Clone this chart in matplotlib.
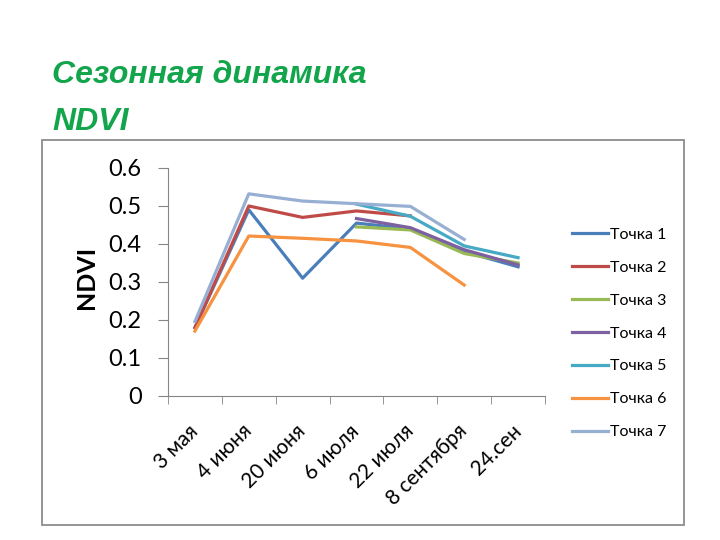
import numpy as np
import matplotlib.pyplot as plt
from matplotlib.patches import Rectangle

plt.rcParams['font.family'] = ['Lato', 'DejaVu Sans']

# Данные
dates = ["3 мая", "4 июня", "20 июня", "6 июля", "22 июля", "8 сентября", "24.сен"]
nan = np.nan
p1 = [0.18, 0.49, 0.31, 0.455, 0.44, 0.38, 0.34]
p2 = [0.18, 0.50, 0.47, 0.487, 0.474, nan, nan]
p3 = [nan, nan, nan, 0.445, 0.437, 0.375, 0.35]
p4 = [nan, nan, nan, 0.467, 0.443, 0.385, 0.345]
p5 = [nan, nan, nan, 0.505, 0.473, 0.395, 0.364]
p6 = [0.171, 0.421, 0.415, 0.408, 0.391, 0.292, nan]
p7 = [0.196, 0.532, 0.513, 0.506, 0.499, 0.412, nan]
series = [p1, p2, p3, p4, p5, p6, p7]
names = ["Точка 1", "Точка 2", "Точка 3", "Точка 4", "Точка 5", "Точка 6", "Точка 7"]
colors = ["#4A7EBB", "#BE4B48", "#98B954", "#7D60A0", "#46AAC5", "#F69240", "#98AFD4"]

fig = plt.figure(figsize=(7.2, 5.4), dpi=100)

# рамка диаграммы
fig.patches.append(Rectangle((42 / 720, 1 - 525 / 540), 642 / 720, 385 / 540,
                             transform=fig.transFigure, fill=False,
                             edgecolor="#8c8c8c", linewidth=1.3))

fig.text(52 / 720, 1 - 75 / 540, "Сезонная динамика", color="#13a54c", fontsize=23,
         fontweight="bold", fontstyle="italic", family="Liberation Sans", va="center")
fig.text(52 / 720, 1 - 122 / 540, "NDVI", color="#13a54c", fontsize=23,
         fontweight="bold", fontstyle="italic", family="Liberation Sans", va="center")

ax = fig.add_axes([168 / 720, 1 - 396 / 540, 377 / 720, 228 / 540])
x = np.arange(len(dates))
for vals, name, c in zip(series, names, colors):
    ax.plot(x, vals, color=c, linewidth=2.3, label=name)

ax.set_xlim(-0.5, len(dates) - 0.5)
ax.set_ylim(0, 0.6)
ax.set_yticks(np.arange(0, 0.61, 0.1))
ax.set_yticklabels(["0", "0.1", "0.2", "0.3", "0.4", "0.5", "0.6"])
ax.set_xticks(x)
ax.set_xticklabels(dates, rotation=45, ha="right", va="center",
                   rotation_mode="anchor", fontsize=15)
ax.set_xticks(np.arange(-0.5, len(dates)), minor=True)
ax.tick_params(axis="x", which="major", length=0, pad=23)
ax.tick_params(axis="x", which="minor", length=6, color="#868686")
ax.tick_params(axis="y", length=7, color="#868686", labelsize=17, pad=12)
for s in ["top", "right"]:
    ax.spines[s].set_visible(False)
ax.spines["left"].set_color("#868686")
ax.spines["bottom"].set_color("#868686")
ax.set_ylabel("NDVI", fontsize=18, fontweight="bold")
ax.yaxis.set_label_coords(-0.185, 0.52)

fig.legend(loc="center left", bbox_to_anchor=(558 / 720, 1 - 333.5 / 540), frameon=False,
           fontsize=11.5, labelspacing=1.17, handlelength=2.25, handletextpad=0.08)

fig.savefig("out.png", dpi=100)
